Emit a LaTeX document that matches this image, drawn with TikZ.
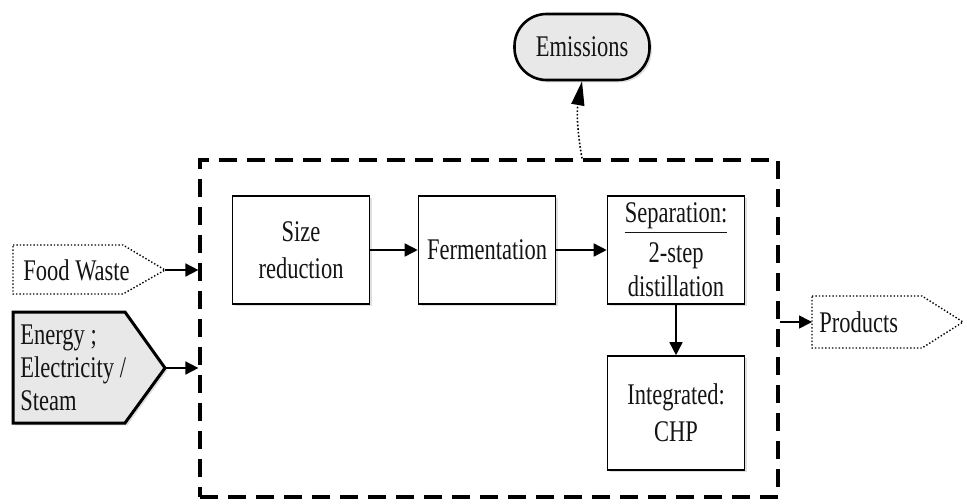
\documentclass[tikz,border=0pt]{standalone}
\usepackage{fontspec}
\setmainfont{Liberation Serif}[FakeStretch=0.75]
\usetikzlibrary{arrows.meta,positioning,shadows}
\definecolor{plantGray}{RGB}{232,232,232}
\definecolor{plantText}{RGB}{20,20,20}

\begin{document}
\begin{tikzpicture}[
  x=0.5pt,y=-0.5pt,
  every node/.style={font=\fontsize{15}{18.5}\selectfont,text=plantText},
  unitbox/.style={
    draw,
    line width=0.8pt,
    minimum width=68.5pt,
    minimum height=54pt,
    align=center,
    fill=white,
    drop shadow={shadow xshift=1.2pt,shadow yshift=-1.2pt,opacity=0.25}
  },
  flowtext/.style={anchor=west,inner sep=0pt,align=left},
  softshadow/.style={drop shadow={shadow xshift=1.2pt,shadow yshift=-1.2pt,opacity=0.25}},
  arrow/.style={-{Triangle[length=6.5pt,width=6.5pt]},line width=0.8pt}
]
  \useasboundingbox (0,0) rectangle (967,503);

  % process boundary
  \node[draw,line width=1.6pt,dash pattern=on 9pt off 5pt,
        minimum width=289pt,minimum height=168.5pt] (plant) at (489,328.5) {};

  % units inside the plant
  \node[unitbox] (size) at (301,250) {Size\\reduction};
  \node[unitbox] (ferm) at (487,250) {Fermentation};
  \node[unitbox,font=\fontsize{15}{17}\selectfont] (sep) at (676,250)
    {\underline{Separation:}\\[3pt]2-step\\distillation};
  \node[unitbox,minimum height=57pt] (chp) at (676,413) {Integrated:\\CHP};

  % inputs and outputs
  \draw[densely dotted,line width=0.7pt]
    (13,245) -- (123,245) -- (165,270) -- (123,294) -- (13,294) -- cycle;
  \coordinate (foodTip) at (165,270);
  \node[flowtext] (food) at (23,270) {Food Waste};

  \draw[line width=1.5pt,fill=plantGray,softshadow]
    (13,312) -- (125,312) -- (165,368) -- (125,423) -- (13,423) -- cycle;
  \coordinate (energyTip) at (165,368);
  \node[flowtext,font=\fontsize{15}{16.5}\selectfont] (energy) at (20,368)
    {Energy ;\\Electricity /\\Steam};

  \draw[densely dotted,line width=0.7pt]
    (812,296) -- (922,296) -- (963,322) -- (922,348) -- (812,348) -- cycle;
  \coordinate (prodIn) at (812,322);
  \node[flowtext] (prod) at (819,322) {Products};

  \node[draw,line width=1.3pt,fill=plantGray,rounded corners=16pt,
        minimum width=67.5pt,minimum height=33pt,softshadow] (emis) at (582,47) {Emissions};

  \draw[arrow] (size) -- (ferm);
  \draw[arrow] (ferm) -- (sep);
  \draw[arrow] (sep) -- (chp);
  \draw[arrow] (foodTip) -- (foodTip -| plant.west);
  \draw[arrow] (energyTip) -- (energyTip -| plant.west);
  \draw[arrow] (prodIn -| plant.east) -- (prodIn);
  \draw[-{Triangle[length=12pt,width=6.5pt]},line width=0.8pt,densely dotted]
    (plant.north -| emis.south) to[bend left=10] (emis.south);
\end{tikzpicture}
\end{document}
